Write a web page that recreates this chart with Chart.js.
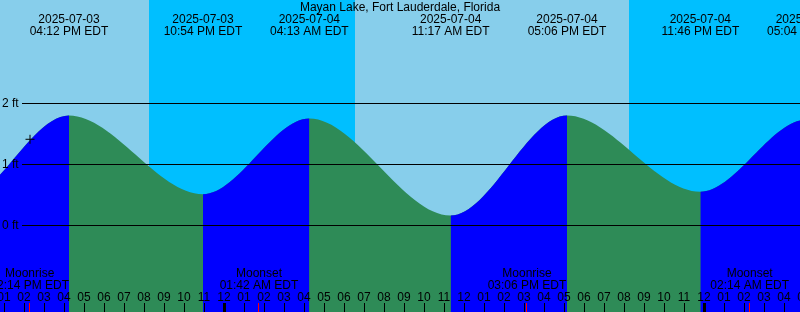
<!DOCTYPE html>
<html>
<head>
<meta charset="utf-8">
<script src="https://cdn.jsdelivr.net/npm/chart.js@4"></script>
<style>
  body { margin: 0; background: #87CEEB; }
  #wrap { width: 800px; height: 312px; position: relative; }
</style>
</head>
<body>
<div id="wrap"><canvas id="tideChart"></canvas></div>
<script>
// Hours are counted from midnight 2025-07-04 (EDT)
// first and last entries lie outside the window, so the visible extremes stay flat
const tideTimes = [-19.6, -13.4, -7.8, -1.1, 4.217, 11.283, 17.1, 23.767, 29.067, 35.8];
const tideHeights = [1.70, 0.35, 1.80, 0.51, 1.75, 0.16, 1.80, 0.55, 1.73, 0.20];

const eventDates = ['', '', '2025-07-03', '2025-07-03', '2025-07-04', '2025-07-04', '2025-07-04', '2025-07-04', '2025-07-05', ''];
const eventClock = ['', '', '04:12 PM EDT', '10:54 PM EDT', '04:13 AM EDT', '11:17 AM EDT', '05:06 PM EDT', '11:46 PM EDT', '05:04 AM EDT', ''];

const nightStart = [-3.8, 20.2];
const nightEnd = [6.5, 30];

const moonTimes = [-9.767, 1.7, 15.1, 26.233];
const moonKinds = ['Moonrise', 'Moonset', 'Moonrise', 'Moonset'];
const moonClock = ['02:14 PM EDT', '01:42 AM EDT', '03:06 PM EDT', '02:14 AM EDT'];

const firstHour = -11;
const hourLabels = ['01', '02', '03', '04', '05', '06', '07', '08', '09', '10', '11',
  '12', '01', '02', '03', '04', '05', '06', '07', '08', '09', '10', '11',
  '12', '01', '02', '03', '04', '05', '06', '07', '08', '09', '10', '11',
  '12', '01', '02', '03', '04', '05'];
const midnights = [0, 24];

const levelTicks = [0, 1, 2];
const nowMark = [{ x: -9.75, y: 1.41 }];

const title = 'Mayan Lake, Fort Lauderdale, Florida';

const FONT = '12px "Liberation Sans", Arial, sans-serif';
const DAY = '#87CEEB', NIGHT = '#00BFFF', RISE = '#0000FF', FALL = '#2E8B57';

const tidePoints = tideTimes.map((t, i) => ({ x: t, y: tideHeights[i] }));

const backdrop = {
  id: 'backdrop',
  beforeDatasetsDraw(chart) {
    const { ctx, chartArea: a, scales: { x } } = chart;
    ctx.save();
    ctx.fillStyle = DAY;
    ctx.fillRect(a.left, a.top, a.right - a.left, a.bottom - a.top);
    ctx.fillStyle = NIGHT;
    nightStart.forEach((s, i) => {
      const x1 = Math.round(x.getPixelForValue(s));
      const x2 = Math.round(x.getPixelForValue(nightEnd[i]));
      ctx.fillRect(x1, a.top, x2 - x1, a.bottom - a.top);
    });
    ctx.restore();
  }
};

const overlay = {
  id: 'overlay',
  afterDatasetsDraw(chart) {
    const { ctx, chartArea: a, scales: { x, y } } = chart;
    ctx.save();
    ctx.font = FONT;
    ctx.fillStyle = '#000';
    ctx.strokeStyle = '#000';
    ctx.lineWidth = 1;

    // level lines and labels
    levelTicks.forEach(v => {
      const py = Math.floor(y.getPixelForValue(v)) + 0.5;
      ctx.beginPath();
      ctx.moveTo(22, py);
      ctx.lineTo(a.right, py);
      ctx.stroke();
      ctx.textAlign = 'left';
      ctx.textBaseline = 'middle';
      ctx.fillText(v + ' ft', 2, py);
    });

    // title and tide event labels
    ctx.textAlign = 'center';
    ctx.textBaseline = 'middle';
    ctx.fillText(title, (a.left + a.right) / 2, 8);
    tideTimes.forEach((t, i) => {
      if (!eventDates[i]) return;
      const px = x.getPixelForValue(t);
      ctx.fillText(eventDates[i], px, 20);
      ctx.fillText(eventClock[i], px, 32);
    });

    // moon labels
    moonTimes.forEach((t, i) => {
      const px = x.getPixelForValue(t);
      ctx.fillText(moonKinds[i], px, 274);
      ctx.fillText(moonClock[i], px, 286);
    });

    // hour labels and ticks
    hourLabels.forEach((lab, i) => {
      const h = firstHour + i;
      const px = x.getPixelForValue(h) - 1;
      ctx.fillText(lab, px, 298);
      if (midnights.includes(h)) {
        ctx.fillRect(Math.round(px) - 1, 303, 3, 9);
      } else {
        ctx.fillRect(Math.round(px), 303, 1, 9);
      }
    });
    ctx.fillStyle = '#FF0000';
    moonTimes.forEach(t => {
      ctx.fillRect(Math.round(x.getPixelForValue(t)) - 1, 303, 1, 9);
    });
    ctx.restore();
  }
};

new Chart(document.getElementById('tideChart'), {
  type: 'line',
  data: {
    datasets: [{
      label: 'Now',
      data: nowMark,
      showLine: false,
      pointStyle: 'cross',
      pointRadius: 4.5,
      borderColor: '#000',
      borderWidth: 1,
      fill: false
    }, {
      // rising stretches, drawn above the falling fill
      label: 'Rising',
      data: tidePoints,
      cubicInterpolationMode: 'monotone',
      borderColor: 'rgba(0,0,0,0)',
      borderWidth: 1,
      pointRadius: 0,
      fill: 'start',
      backgroundColor: RISE,
      segment: {
        backgroundColor: c => c.p1.parsed.y > c.p0.parsed.y ? RISE : 'rgba(0,0,0,0)'
      }
    }, {
      // whole area under the curve, falling colour
      label: 'Tide',
      data: tidePoints,
      cubicInterpolationMode: 'monotone',
      borderColor: 'rgba(0,0,0,0)',
      borderWidth: 1,
      pointRadius: 0,
      fill: 'start',
      backgroundColor: FALL
    }]
  },
  options: {
    responsive: true,
    maintainAspectRatio: false,
    animation: false,
    layout: { padding: 0, autoPadding: false },
    scales: {
      x: { type: 'linear', min: -11.25, max: 28.75, display: false },
      y: { type: 'linear', min: -1.421, max: 3.693, display: false }
    },
    plugins: {
      legend: { display: false },
      tooltip: { enabled: false }
    }
  },
  plugins: [backdrop, overlay]
});
</script>
</body>
</html>
